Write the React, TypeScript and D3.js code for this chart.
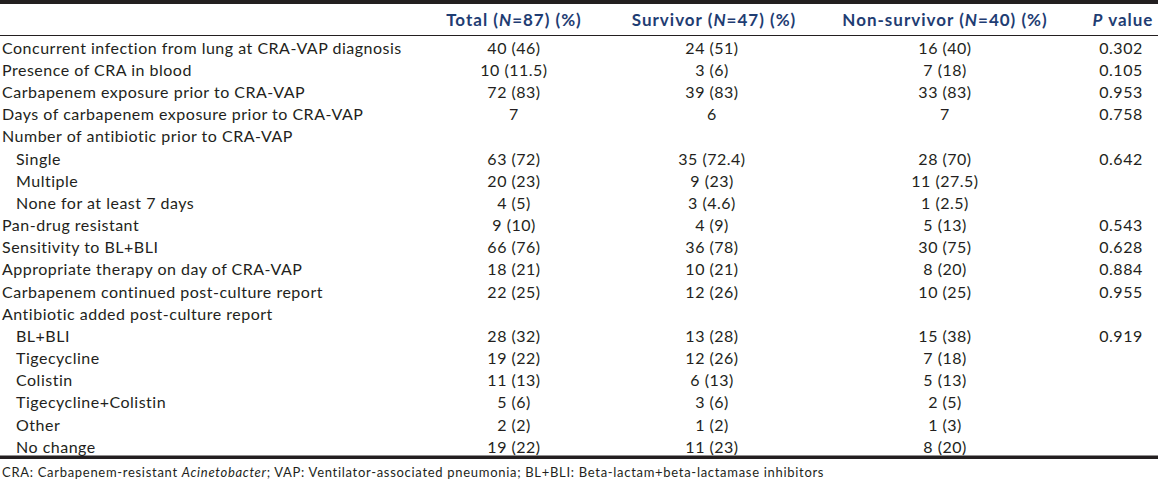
import React from "react";
import * as d3 from "d3";

const labels = [
  "Concurrent infection from lung at CRA-VAP diagnosis",
  "Presence of CRA in blood",
  "Carbapenem exposure prior to CRA-VAP",
  "Days of carbapenem exposure prior to CRA-VAP",
  "Number of antibiotic prior to CRA-VAP",
  "Single",
  "Multiple",
  "None for at least 7 days",
  "Pan-drug resistant",
  "Sensitivity to BL+BLI",
  "Appropriate therapy on day of CRA-VAP",
  "Carbapenem continued post-culture report",
  "Antibiotic added post-culture report",
  "BL+BLI",
  "Tigecycline",
  "Colistin",
  "Tigecycline+Colistin",
  "Other",
  "No change",
];
const indented = [false, false, false, false, false, true, true, true, false, false, false, false, false, true, true, true, true, true, true];
const totalVals = ["40 (46)", "10 (11.5)", "72 (83)", "7", "", "63 (72)", "20 (23)", "4 (5)", "9 (10)", "66 (76)", "18 (21)", "22 (25)", "", "28 (32)", "19 (22)", "11 (13)", "5 (6)", "2 (2)", "19 (22)"];
const survivorVals = ["24 (51)", "3 (6)", "39 (83)", "6", "", "35 (72.4)", "9 (23)", "3 (4.6)", "4 (9)", "36 (78)", "10 (21)", "12 (26)", "", "13 (28)", "12 (26)", "6 (13)", "3 (6)", "1 (2)", "11 (23)"];
const nonSurvivorVals = ["16 (40)", "7 (18)", "33 (83)", "7", "", "28 (70)", "11 (27.5)", "1 (2.5)", "5 (13)", "30 (75)", "8 (20)", "10 (25)", "", "15 (38)", "7 (18)", "5 (13)", "2 (5)", "1 (3)", "8 (20)"];
const pVals = ["0.302", "0.105", "0.953", "0.758", "", "0.642", "", "", "0.543", "0.628", "0.884", "0.955", "", "0.919", "", "", "", "", ""];

const columns = ["total", "survivor", "nonsurvivor", "p"];

const W = 1158;
const H = 482;
const FONT = "Lato, 'Open Sans', sans-serif";
const TEXT = "#231f20";
const HEAD = "#1f3d73";

export default function App() {
  const y = d3
    .scaleBand<number>()
    .domain(labels.map((_, i) => i))
    .range([37, 458.2])
    .paddingInner(0);
  const x = d3.scaleOrdinal<string, number>().domain(columns).range([514, 712, 945, 1121]);
  const xHead = d3.scaleOrdinal<string, number>().domain(columns).range([514, 714, 945, 1123]);
  const colVals = [totalVals, survivorVals, nonSurvivorVals, pVals];

  const headers: { key: string; parts: { t: string; i?: boolean }[] }[] = [
    { key: "total", parts: [{ t: "Total (" }, { t: "N", i: true }, { t: "=87) (%)" }] },
    { key: "survivor", parts: [{ t: "Survivor (" }, { t: "N", i: true }, { t: "=47) (%)" }] },
    { key: "nonsurvivor", parts: [{ t: "Non-survivor (" }, { t: "N", i: true }, { t: "=40) (%)" }] },
    { key: "p", parts: [{ t: "P", i: true }, { t: " value" }] },
  ];

  return (
    <div>
      <style>{"body{margin:0}"}</style>
      <svg width={W} height={H} style={{ display: "block", background: "#fff" }} fontFamily={FONT}>
        <rect x={0} y={0} width={W} height={4} fill="#231f20" />
        {headers.map((h) => (
          <text
            key={h.key}
            x={xHead(h.key)}
            y={20}
            dy="0.35em"
            textAnchor="middle"
            fontSize={17}
            fontWeight={700}
            letterSpacing={1}
            fill={HEAD}
          >
            {h.parts.map((p, j) => (
              <tspan key={j} fontStyle={p.i ? "italic" : "normal"}>
                {p.t}
              </tspan>
            ))}
          </text>
        ))}
        <line x1={0} x2={W} y1={35.5} y2={35.5} stroke="#231f20" strokeWidth={1.2} />
        {labels.map((lab, i) => {
          const cy = (y(i) as number) + y.bandwidth() / 2;
          return (
            <g key={i}>
              <text x={indented[i] ? 16 : 2} y={cy} dy="0.35em" fontSize={16} letterSpacing={0.5} fill={TEXT}>
                {lab}
              </text>
              {columns.map((c, k) =>
                colVals[k][i] ? (
                  <text
                    key={c}
                    x={x(c)}
                    y={cy}
                    dy="0.35em"
                    textAnchor="middle"
                    fontSize={16}
                    letterSpacing={0.5}
                    fill={TEXT}
                  >
                    {colVals[k][i]}
                  </text>
                ) : null
              )}
            </g>
          );
        })}
        <rect x={0} y={455.5} width={W} height={3.5} fill="#231f20" />
        <text x={2} y={472} dy="0.35em" fontSize={13} letterSpacing={0.7} fill={TEXT}>
          <tspan>CRA: Carbapenem-resistant </tspan>
          <tspan fontStyle="italic">Acinetobacter</tspan>
          <tspan>; VAP: Ventilator-associated pneumonia; BL+BLI: Beta-lactam+beta-lactamase inhibitors</tspan>
        </text>
      </svg>
    </div>
  );
}
